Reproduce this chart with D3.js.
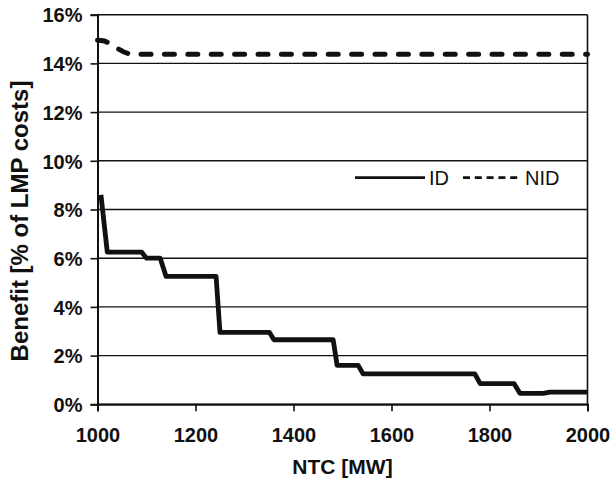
<!DOCTYPE html>
<html>
<head>
<meta charset="utf-8">
<script src="https://cdn.jsdelivr.net/npm/d3@7"></script>
<style>
  body { margin: 0; background: #ffffff; }
  text { font-family: "Liberation Sans", Arial, sans-serif; }
</style>
</head>
<body>
<div id="container"></div>
<script>
let w = 611;
let h = 482;
let margin = {top: 14.7, right: 23.5, bottom: 77.7, left: 97.5};

// DATA
let idNtc = [1007, 1020, 1090, 1100, 1128, 1140, 1242, 1250, 1351, 1360, 1481, 1489, 1532, 1542, 1770, 1781, 1850, 1862, 1910, 1923, 2000];
let idBenefit = [8.6, 6.25, 6.25, 6.0, 6.0, 5.25, 5.25, 2.95, 2.95, 2.65, 2.65, 1.6, 1.6, 1.25, 1.25, 0.85, 0.85, 0.45, 0.45, 0.5, 0.5];
let nidNtc = [1000, 1012, 1022, 1040, 1060, 1070, 2000];
let nidBenefit = [14.95, 14.93, 14.85, 14.62, 14.42, 14.38, 14.38];
let xTicks = [1000, 1200, 1400, 1600, 1800, 2000];
let yTicks = [0, 2, 4, 6, 8, 10, 12, 14, 16];
let seriesNames = ["ID", "NID"];

let viz = d3.select("#container").append("svg")
    .attr("width", w)
    .attr("height", h)
    .style("display", "block")
    .style("background-color", "#ffffff");

let x = d3.scaleLinear().domain([1000, 2000]).range([margin.left, w - margin.right]);
let y = d3.scaleLinear().domain([0, 16]).range([h - margin.bottom, margin.top]);

// grid lines
viz.append("g").selectAll("line").data(yTicks).enter().append("line")
    .attr("x1", x(1000)).attr("x2", x(2000))
    .attr("y1", d => y(d)).attr("y2", d => y(d))
    .attr("stroke", "#111").attr("stroke-width", 1.4);

// right border
viz.append("line")
    .attr("x1", x(2000)).attr("x2", x(2000))
    .attr("y1", y(16)).attr("y2", y(0))
    .attr("stroke", "#111").attr("stroke-width", 1.6);

// axes
let xAxis = viz.append("g")
    .attr("transform", "translate(0," + y(0) + ")")
    .call(d3.axisBottom(x).tickValues(xTicks).tickSize(7).tickPadding(6).tickFormat(d3.format("d")));
let yAxis = viz.append("g")
    .attr("transform", "translate(" + x(1000) + ",0)")
    .call(d3.axisLeft(y).tickValues(yTicks).tickSize(7).tickPadding(8).tickFormat(d => d + "%"));

[xAxis, yAxis].forEach(a => {
  a.select(".domain").attr("stroke", "#111").attr("stroke-width", 2);
  a.selectAll(".tick line").attr("stroke", "#111").attr("stroke-width", 1.6);
  a.selectAll(".tick text")
    .attr("fill", "#111")
    .style("font-size", "20px")
    .style("font-weight", "bold")
    .style("font-family", "'Liberation Sans', Arial, sans-serif");
});
xAxis.selectAll(".tick text").attr("y", 0).attr("dy", 0).attr("transform", "translate(0,37.8)");
yAxis.selectAll(".tick text").attr("dy", "0.36em");

// lines
let lineMaker = d3.line().x(d => x(d[0])).y(d => y(d[1]));
let idData = idNtc.map((n, i) => [n, idBenefit[i]]);
let nidData = nidNtc.map((n, i) => [n, nidBenefit[i]]);

viz.append("path")
    .attr("d", lineMaker(idData))
    .attr("fill", "none")
    .attr("stroke", "#111")
    .attr("stroke-width", 4.8)
    .attr("stroke-linejoin", "round");

viz.append("path")
    .attr("d", lineMaker.curve(d3.curveMonotoneX)(nidData))
    .attr("fill", "none")
    .attr("stroke", "#111")
    .attr("stroke-width", 5)
    .attr("stroke-linecap", "round")
    .attr("stroke-dasharray", "10,13.4");

// legend
let legend = viz.append("g");
legend.append("line")
    .attr("x1", 355).attr("x2", 425).attr("y1", 177.7).attr("y2", 177.7)
    .attr("stroke", "#111").attr("stroke-width", 2.8);
legend.append("text")
    .attr("x", 429).attr("y", 184.5)
    .style("font-size", "20px").attr("fill", "#111")
    .text(seriesNames[0]);
legend.append("line")
    .attr("x1", 463).attr("x2", 521).attr("y1", 177.7).attr("y2", 177.7)
    .attr("stroke", "#111").attr("stroke-width", 2.8)
    .attr("stroke-dasharray", "7,4.8");
legend.append("text")
    .attr("x", 525).attr("y", 184.5)
    .style("font-size", "20px").attr("fill", "#111")
    .text(seriesNames[1]);

// axis titles
viz.append("text")
    .attr("x", (x(1000) + x(2000)) / 2).attr("y", 474)
    .attr("text-anchor", "middle")
    .style("font-size", "21px").style("font-weight", "bold").attr("fill", "#111")
    .text("NTC [MW]");
viz.append("text")
    .attr("transform", "translate(28,221) rotate(-90)")
    .attr("text-anchor", "middle")
    .style("font-size", "24px").style("font-weight", "bold").attr("fill", "#111")
    .text("Benefit [% of LMP costs]");
</script>
</body>
</html>
